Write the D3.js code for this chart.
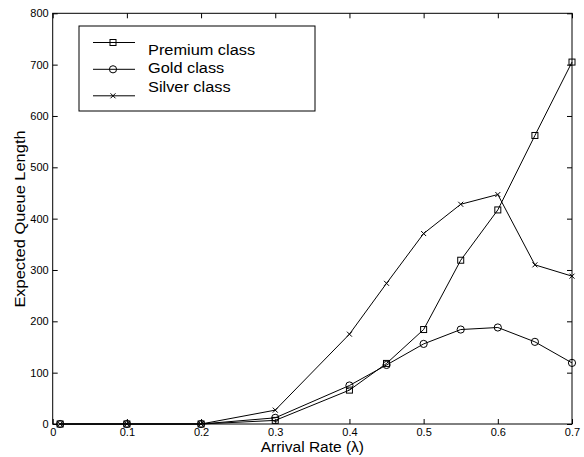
<!DOCTYPE html>
<html><head><meta charset="utf-8">
<script src="https://cdn.jsdelivr.net/npm/d3@7"></script>
<style>body{margin:0;background:#fff}svg{display:block}text{font-family:"Liberation Sans",Arial,Helvetica,sans-serif}</style>
</head><body>
<svg id="c" width="584" height="457"></svg>
<script>
const arrivalRate = [0.01, 0.1, 0.2, 0.3, 0.4, 0.45, 0.5, 0.55, 0.6, 0.65, 0.7];
const premium = [0, 0, 0, 7, 66, 118, 184, 319, 417, 562, 705];
const gold    = [0, 0, 0, 12, 75, 115, 156, 184, 188, 160, 119];
const silver  = [0, 0, 0, 27, 175, 274, 371, 428, 447, 310, 288];
const xTicks = [0, 0.1, 0.2, 0.3, 0.4, 0.5, 0.6, 0.7];
const yTicks = [0, 100, 200, 300, 400, 500, 600, 700, 800];
const seriesNames = ["Premium class", "Gold class", "Silver class"];
const seriesMarkers = ["square", "circle", "cross"];

(function () {
const svg = d3.select("#c");
const L = 52.7, R = 572, T = 13.3, B = 424;
const x = d3.scaleLinear().domain([0, 0.7]).range([L, R]);
const y = d3.scaleLinear().domain([0, 800]).range([B, T]);
const tl = 5;

svg.append("rect").attr("x", L).attr("y", T).attr("width", R - L).attr("height", B - T)
  .attr("fill", "none").attr("stroke", "#000").attr("stroke-width", 1);

const fmtX = d => d === 0 ? "0" : d3.format(".1f")(d);
const gBottom = svg.append("g").attr("transform", `translate(0,${B})`)
  .call(d3.axisBottom(x).tickValues(xTicks).tickFormat(fmtX).tickSizeInner(-tl).tickSizeOuter(0).tickPadding(4.5));
const gTop = svg.append("g").attr("transform", `translate(0,${T})`)
  .call(d3.axisTop(x).tickValues(xTicks).tickFormat("").tickSizeInner(-tl).tickSizeOuter(0));
const gLeft = svg.append("g").attr("transform", `translate(${L},0)`)
  .call(d3.axisLeft(y).tickValues(yTicks).tickSizeInner(-tl).tickSizeOuter(0).tickPadding(4));
const gRight = svg.append("g").attr("transform", `translate(${R},0)`)
  .call(d3.axisRight(y).tickValues(yTicks).tickFormat("").tickSizeInner(-tl).tickSizeOuter(0));
[gBottom, gTop, gLeft, gRight].forEach(g => {
  g.select(".domain").remove();
  g.selectAll("line").attr("stroke", "#000");
  g.selectAll("text").attr("font-size", 11).attr("fill", "#000")
    .attr("font-family", "'Liberation Sans', Arial, sans-serif");
});

svg.append("text").attr("x", (L + R) / 2).attr("y", 452).attr("text-anchor", "middle")
  .attr("font-size", 15.5).text("Arrival Rate (λ)");
svg.append("text").attr("transform", `translate(24.5,219) rotate(-90) scale(1.06,1)`)
  .attr("text-anchor", "middle").attr("font-size", 15.5).text("Expected Queue Length");

function marker(g, type, cx, cy) {
  if (type === "square") {
    g.append("rect").attr("x", cx - 3).attr("y", cy - 3).attr("width", 6).attr("height", 6)
      .attr("fill", "none").attr("stroke", "#000").attr("stroke-width", 1);
  } else if (type === "circle") {
    g.append("circle").attr("cx", cx).attr("cy", cy).attr("r", 3.6)
      .attr("fill", "none").attr("stroke", "#000").attr("stroke-width", 1);
  } else {
    g.append("path").attr("d", `M${cx-2.5},${cy-2.5}L${cx+2.5},${cy+2.5}M${cx-2.5},${cy+2.5}L${cx+2.5},${cy-2.5}`)
      .attr("stroke", "#000").attr("stroke-width", 1);
  }
}

const allSeries = [premium, gold, silver];
const line = d3.line().x((d, i) => x(arrivalRate[i])).y(d => y(d));
const plot = svg.append("g");
allSeries.forEach((vals, si) => {
  plot.append("path").datum(vals).attr("d", line).attr("fill", "none")
    .attr("stroke", "#000").attr("stroke-width", 1);
  vals.forEach((v, i) => marker(plot, seriesMarkers[si], x(arrivalRate[i]), y(v)));
});

const lg = svg.append("g");
lg.append("rect").attr("x", 79).attr("y", 26).attr("width", 236).attr("height", 85)
  .attr("fill", "#fff").attr("stroke", "#000").attr("stroke-width", 1);
const lineYs = [42.5, 69.3, 95.8];
const textYs = [55, 73.3, 91.6];
seriesNames.forEach((name, i) => {
  lg.append("line").attr("x1", 93).attr("x2", 135).attr("y1", lineYs[i]).attr("y2", lineYs[i])
    .attr("stroke", "#000").attr("stroke-width", 1);
  marker(lg, seriesMarkers[i], 113, lineYs[i]);
  lg.append("text").attr("transform", `translate(148,${textYs[i]}) scale(1.09,1)`)
    .attr("font-size", 15).text(name);
});
})();
</script>
</body></html>
